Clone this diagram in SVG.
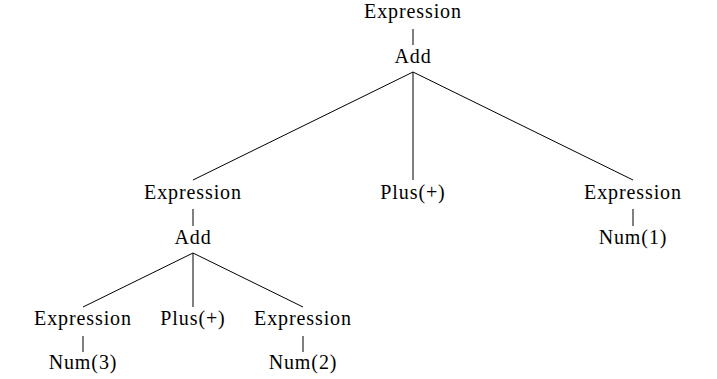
<svg xmlns="http://www.w3.org/2000/svg" width="717" height="379" viewBox="0 0 717 379">
<style>
text{font-family:'Liberation Serif','Times New Roman',serif;font-size:20px;letter-spacing:0.9px;text-anchor:middle;fill:#000}
line{stroke:#000;stroke-width:1}
</style>
<rect width="717" height="379" fill="#fff"/>
<g id="connectors">
<line x1="413" y1="29" x2="413" y2="45"/>
<line x1="413" y1="72" x2="193" y2="180"/>
<line x1="413" y1="72" x2="413" y2="180"/>
<line x1="413" y1="72" x2="633" y2="180"/>
<line x1="193" y1="209" x2="193" y2="226"/>
<line x1="633" y1="209" x2="633" y2="226"/>
<line x1="193" y1="253" x2="83" y2="307"/>
<line x1="193" y1="253" x2="193" y2="307"/>
<line x1="193" y1="253" x2="303" y2="307"/>
<line x1="83" y1="336" x2="83" y2="352"/>
<line x1="303" y1="336" x2="303" y2="352"/>
</g>
<g id="n1"><text x="413" y="18">Expression</text></g>
<g id="n2"><text x="413" y="63">Add</text></g>
<g id="n3"><text x="193" y="199">Expression</text></g>
<g id="n4"><text x="413" y="199">Plus(+)</text></g>
<g id="n5"><text x="633" y="199">Expression</text></g>
<g id="n6"><text x="193" y="244">Add</text></g>
<g id="n7"><text x="633" y="244">Num(1)</text></g>
<g id="n8"><text x="83" y="325">Expression</text></g>
<g id="n9"><text x="193" y="325">Plus(+)</text></g>
<g id="n10"><text x="303" y="325">Expression</text></g>
<g id="n11"><text x="83" y="369">Num(3)</text></g>
<g id="n12"><text x="303" y="369">Num(2)</text></g>
</svg>
